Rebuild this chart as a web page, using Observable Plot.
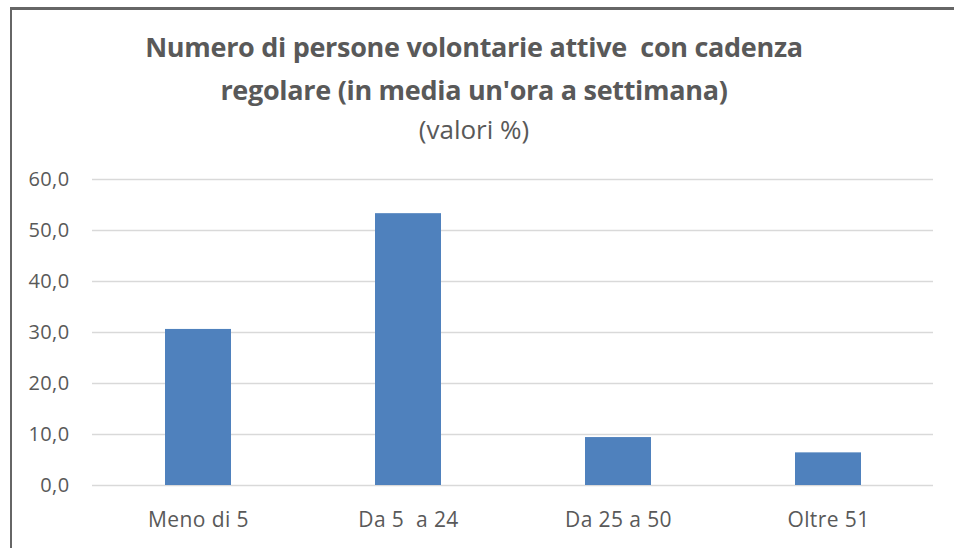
<!DOCTYPE html>
<html>
<head>
<meta charset="utf-8">
<script src="https://cdn.jsdelivr.net/npm/d3@7"></script>
<script src="https://cdn.jsdelivr.net/npm/@observablehq/plot@0.6"></script>
<style>
  html, body { margin: 0; padding: 0; background: #fff; }
  body { width: 954px; height: 548px; position: relative; overflow: hidden; font-family: "Open Sans", sans-serif; }
  #topline { position: absolute; left: 10px; top: 7px; width: 944px; height: 3px; background: #666; }
  #leftline { position: absolute; left: 10px; top: 7px; width: 2px; height: 541px; background: #666; }
  #title { position: absolute; left: 0; top: 25px; width: 948px; text-align: center; color: #595959;
           font-weight: 700; font-size: 27px; line-height: 43px; white-space: pre; letter-spacing: -0.3px; }
  #subtitle { position: absolute; left: 0; top: 111px; width: 948px; text-align: center; color: #595959;
           font-weight: 400; font-size: 26px; line-height: 36px; white-space: pre; }
  #chart { position: absolute; left: 0; top: 160px; width: 954px; height: 388px; }
  #chart svg { display: block; }
  #chart svg text { letter-spacing: 0.4px; }
</style>
</head>
<body>
<div id="topline"></div>
<div id="leftline"></div>
<div id="title">Numero di persone volontarie attive  con cadenza
regolare (in media un'ora a settimana)</div>
<div id="subtitle">(valori %)</div>
<div id="chart"></div>
<script>
const categories = ["Meno di 5", "Da 5\u00a0 a 24", "Da 25 a 50", "Oltre 51"];
const values = [30.6, 53.3, 9.4, 6.4];
const yTicks = [0, 10, 20, 30, 40, 50, 60];

const data = categories.map((c, i) => ({cat: c, val: values[i]}));
const fmt = d => d.toFixed(1).replace(".", ",");

const chart = Plot.plot({
  width: 954,
  height: 388,
  marginTop: 19,
  marginBottom: 63,
  marginLeft: 92,
  marginRight: 21,
  style: {fontFamily: "Open Sans", fontSize: "20px", color: "#595959", background: "transparent"},
  x: {domain: categories, paddingInner: 0.686, paddingOuter: 0.343, label: null},
  y: {domain: [0, 60], label: null},
  marks: [
    Plot.gridY(yTicks, {stroke: "#d9d9d9", strokeOpacity: 1, strokeWidth: 1.5}),
    Plot.barY(data, {x: "cat", y: "val", fill: "#4f81bd"}),
    Plot.axisY(yTicks, {tickSize: 0, tickPadding: 23, tickFormat: fmt, label: null, fontSize: 20}),
    Plot.axisX({tickSize: 0, tickPadding: 27, label: null, fontSize: 21})
  ]
});
document.getElementById("chart").appendChild(chart);
</script>
</body>
</html>
